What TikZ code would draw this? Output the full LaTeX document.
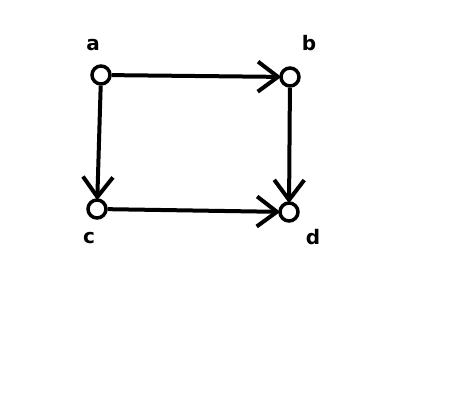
\documentclass[tikz,border=0pt]{standalone}
\usepackage{fontspec}
\setmainfont{DejaVu Sans}
\usepackage{tikz}
\usetikzlibrary{positioning, arrows.meta}
\definecolor{gBlack}{RGB}{0, 0, 0}
\tikzset{
    vertex/.style={
        circle,
        draw=gBlack,
        line width=3.5pt,
        fill=white,
        minimum size=18pt,
        inner sep=0pt
    },
    edge/.style={
        -{Straight Barb[length=20pt, width=30pt, line width=4pt]},
        line width=4pt,
        color=gBlack,
        shorten >=-2pt
    },
    tag/.style={
        font=\bfseries\fontsize{20}{20}\selectfont,
        inner sep=0pt
    }
}
\begin{document}
\begin{tikzpicture}[x=1pt, y=-1pt]
  \useasboundingbox (0,0) rectangle (474,402);
  % Vertices
  \node[vertex] (a) at (101,75) {};
  \node[vertex] (b) at (290,77) {};
  \node[vertex] (c) at (97,209) {};
  \node[vertex] (d) at (289,212) {};

  % Labels
  \node[tag] (la) at (93,45) {a};
  \node[tag] (lb) at (309,43) {b};
  \node[tag] (lc) at (89,238) {c};
  \node[tag] (ld) at (313,237) {d};

  % Edges
  \draw[edge] (a) -- (b);
  \draw[edge] (a) -- (c);
  \draw[edge] (c) -- (d);
  \draw[edge] (b) -- (d);
\end{tikzpicture}
\end{document}
